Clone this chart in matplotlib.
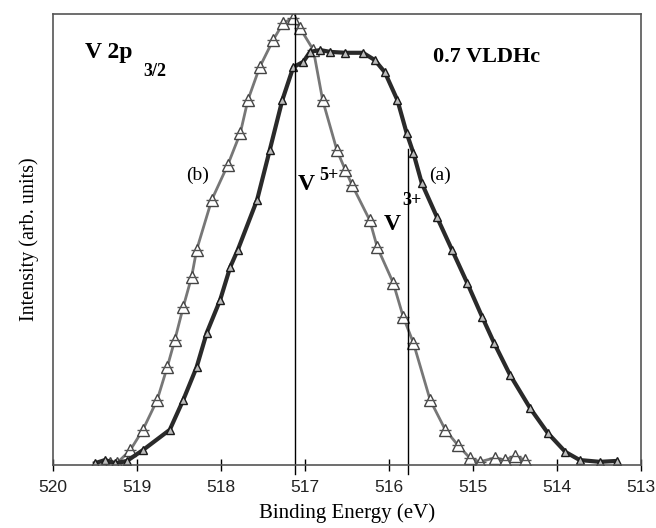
"""
V 2p3/2 XPS spectra of 0.7 VLDHc
"""

import matplotlib.pyplot as plt

# =============================================================================
# data
# =============================================================================

# (b) - narrow spectrum, open triangles
energy_b = [519.32, 519.24, 519.08, 518.93, 518.76, 518.64, 518.55, 518.45,
            518.35, 518.29, 518.11, 517.92, 517.77, 517.68, 517.54, 517.38,
            517.26, 517.14, 517.06, 516.90, 516.79, 516.62, 516.52, 516.44,
            516.23, 516.14, 515.95, 515.83, 515.71, 515.51, 515.33, 515.18,
            515.04, 514.92, 514.74, 514.62, 514.50, 514.38]
intensity_b = [0.004, 0.004, 0.033, 0.078, 0.144, 0.217, 0.277, 0.350,
               0.417, 0.477, 0.588, 0.665, 0.736, 0.809, 0.882, 0.942,
               0.980, 0.991, 0.969, 0.920, 0.809, 0.698, 0.654, 0.621,
               0.543, 0.483, 0.404, 0.328, 0.271, 0.144, 0.078, 0.044,
               0.016, 0.007, 0.016, 0.011, 0.020, 0.011]

# (a) - broad spectrum, dark markers
energy_a = [519.50, 519.38, 519.26, 519.12, 518.93, 518.61, 518.45, 518.29,
            518.17, 518.01, 517.89, 517.80, 517.57, 517.42, 517.27, 517.14,
            517.02, 516.94, 516.82, 516.70, 516.52, 516.31, 516.17, 516.05,
            515.90, 515.79, 515.71, 515.61, 515.43, 515.25, 515.07, 514.89,
            514.75, 514.56, 514.32, 514.11, 513.90, 513.73, 513.49, 513.29]
intensity_a = [0.004, 0.011, 0.004, 0.009, 0.033, 0.078, 0.144, 0.217,
               0.293, 0.366, 0.439, 0.477, 0.588, 0.698, 0.809, 0.882,
               0.894, 0.916, 0.920, 0.916, 0.914, 0.914, 0.898, 0.871,
               0.809, 0.736, 0.692, 0.625, 0.550, 0.477, 0.404, 0.328,
               0.271, 0.200, 0.126, 0.071, 0.029, 0.011, 0.007, 0.009]

# peak positions
v5_energy = 517.12
v3_energy = 515.77
v3_top = 0.70

xticks = [520, 519, 518, 517, 516, 515, 514, 513]

# =============================================================================
# plot
# =============================================================================

serif = 'Liberation Serif'

fig = plt.figure(figsize=(6.56, 5.28), dpi=100)
ax = fig.add_axes([53 / 656, 63 / 528, 588 / 656, 451 / 528])

# (b): band of open triangles
ax.plot(energy_b, intensity_b, color='#777777', linewidth=2.0,
        marker='^', markersize=9, markerfacecolor='white',
        markeredgecolor='#444444', markeredgewidth=1.0)
ax.plot(energy_b, intensity_b, color='#555555', linewidth=0.8, linestyle='none',
        marker='_', markersize=9, markeredgewidth=1.0)

# (a): dark band
ax.plot(energy_a, intensity_a, color='#2a2a2a', linewidth=3.0,
        marker='^', markersize=6, markerfacecolor='#bbbbbb',
        markeredgecolor='#1a1a1a', markeredgewidth=1.0)

# vertical peak lines
ax.plot([v5_energy, v5_energy], [-0.02, 1.0], color='black', linewidth=1.0,
        clip_on=False)
ax.plot([v3_energy, v3_energy], [-0.02, v3_top], color='black', linewidth=1.0,
        clip_on=False)

ax.set_xlim(520, 513)
ax.set_ylim(0, 1.0)
ax.set_xticks(xticks)
ax.set_xticklabels([str(t) for t in xticks], family='Liberation Sans',
                   fontsize=12.5, color='#222222')
ax.set_yticks([])
ax.tick_params(axis='x', direction='inout', length=9, width=1.0, pad=6)

for s in ax.spines.values():
    s.set_color('#555555')
    s.set_linewidth(1.2)

ax.set_xlabel('Binding Energy (eV)', family=serif, fontsize=15, labelpad=6)
ax.set_ylabel('Intensity (arb. units)', family=serif, fontsize=14.5,
              labelpad=10)


# texts placed in pixel positions of the original figure
def px(x, y):
    return (x - 53) / 588, (465 - y) / 451


kw = dict(transform=ax.transAxes, family=serif, fontweight='bold')
ax.text(*px(85, 58), 'V 2p', fontsize=17, ha='left', va='baseline', **kw)
ax.text(*px(143, 76), '3/2', fontsize=13, ha='left', va='baseline', **kw)
ax.text(*px(433, 62), '0.7 VLDHc', fontsize=16, ha='left', va='baseline', **kw)

ax.text(*px(298, 190), 'V', fontsize=17, ha='left', va='baseline', **kw)
ax.text(*px(319, 180), '5+', fontsize=13, ha='left', va='baseline', **kw)
ax.text(*px(384, 230), 'V', fontsize=17, ha='left', va='baseline', **kw)
ax.text(*px(402, 205), '3+', fontsize=13, ha='left', va='baseline', **kw)

ax.text(*px(186, 180), '(b)', fontsize=14, ha='left', va='baseline',
        transform=ax.transAxes, family=serif)
ax.text(*px(429, 180), '(a)', fontsize=14, ha='left', va='baseline',
        transform=ax.transAxes, family=serif)

plt.savefig('out.png', dpi=100)
plt.close()
